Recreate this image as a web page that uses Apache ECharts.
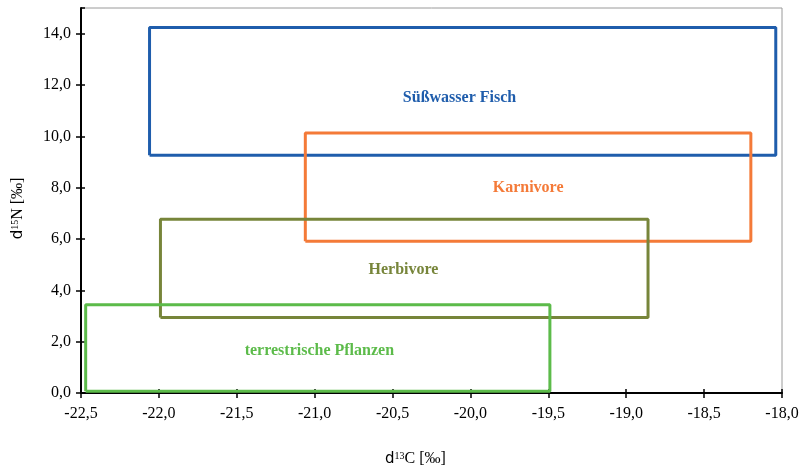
<!DOCTYPE html>
<html>
<head>
<meta charset="utf-8">
<script src="https://cdn.jsdelivr.net/npm/echarts@6/dist/echarts.min.js"></script>
<style>html,body{margin:0;padding:0;background:#fff}#c{width:802px;height:469px}</style>
</head>
<body>
<div id="c"></div>
<script>
// Groups (boxes): name, x range (d13C), y range (d15N)
const groupNames = ['Süßwasser Fisch', 'Karnivore', 'Herbivore', 'terrestrische Pflanzen'];
const xMin = [-22.06, -21.06, -21.99, -22.47];
const xMax = [-18.04, -18.20, -18.86, -19.49];
const yMin = [9.26, 5.91, 2.94, 0.07];
const yMax = [14.24, 10.13, 6.77, 3.44];
// label anchor positions (data units)
const labelX = [-20.07, -19.63, -20.43, -20.97];
const labelY = [11.48, 7.98, 4.78, 1.63];
const colors = ['#1F5DAC', '#F47A38', '#77853A', '#5CBB4A'];

const xTicks = [-22.5, -22.0, -21.5, -21.0, -20.5, -20.0, -19.5, -19.0, -18.5, -18.0];
const yTicks = [0, 2, 4, 6, 8, 10, 12, 14];

const fmt = v => v.toFixed(1).replace('.', ',');

const series = [];
groupNames.forEach((n, i) => {
  series.push({
    type: 'line', name: n, symbol: 'none', silent: true,
    lineStyle: { color: colors[i], width: 3 },
    data: [[xMin[i], yMin[i]], [xMax[i], yMin[i]], [xMax[i], yMax[i]], [xMin[i], yMax[i]], [xMin[i], yMin[i]]],
    z: 3
  });
});
series.push({
  type: 'scatter', symbolSize: 0, silent: true,
  itemStyle: { opacity: 1 },
  data: groupNames.map((n, i) => ({
    value: [labelX[i], labelY[i]],
    label: {
      show: true, position: 'inside', formatter: n, opacity: 1,
      color: colors[i], fontFamily: 'Liberation Serif', fontWeight: 'bold', fontSize: 16
    }
  })),
  z: 5
});

const nameRich = {
  d: { fontFamily: 'DejaVu Sans', fontSize: 15, color: '#000' },
  s: { fontFamily: 'Liberation Serif', fontSize: 10, color: '#000', verticalAlign: 'top', padding: [0, 0, 6, 0] },
  r: { fontFamily: 'Liberation Serif', fontSize: 16, color: '#000' }
};

const chart = echarts.init(document.getElementById('c'), null, { renderer: 'canvas' });
chart.setOption({
  animation: false,
  grid: { left: 81, right: 20, top: 8, bottom: 76, show: true, borderColor: '#9a9a9a', borderWidth: 1,
          containLabel: false, outerBoundsMode: 'none' },
  xAxis: [{
    type: 'value', min: xTicks[0], max: xTicks[xTicks.length - 1], interval: 0.5,
    axisLine: { show: true, lineStyle: { color: '#000', width: 2 } },
    axisTick: { show: true, length: 5, lineStyle: { color: '#000', width: 1.5 } },
    axisLabel: { formatter: fmt, color: '#000', fontFamily: 'Liberation Serif', fontSize: 16, margin: 13 },
    splitLine: { show: false },
    name: '{d|d}{s|13}{r|C [‰]}', nameLocation: 'middle', nameGap: 58,
    nameTextStyle: { padding: [0, 32, 0, 0], rich: nameRich }
  }, {
    type: 'value', position: 'bottom', min: xTicks[0], max: xTicks[xTicks.length - 1], interval: 0.5,
    axisLine: { show: false },
    axisTick: { show: true, inside: true, length: 4, lineStyle: { color: '#000', width: 1.5 } },
    axisLabel: { show: false }, splitLine: { show: false }
  }],
  yAxis: [{
    type: 'value', min: 0, max: 15, interval: 2,
    axisLine: { show: true, lineStyle: { color: '#000', width: 2 } },
    axisTick: { show: true, length: 5, lineStyle: { color: '#000', width: 1.5 } },
    axisLabel: { formatter: fmt, color: '#000', fontFamily: 'Liberation Serif', fontSize: 16, margin: 10, showMaxLabel: false },
    splitLine: { show: false },
    name: '{d|d}{s|15}{r|N [‰]}', nameLocation: 'middle', nameGap: 55,
    nameTextStyle: { padding: [0, 16, 0, 0], rich: nameRich }
  }, {
    type: 'value', position: 'left', min: 0, max: 15, interval: 2,
    axisLine: { show: false },
    axisTick: { show: true, inside: true, length: 4, lineStyle: { color: '#000', width: 1.5 } },
    axisLabel: { show: false }, splitLine: { show: false }
  }],
  series: series
});
</script>
</body>
</html>
